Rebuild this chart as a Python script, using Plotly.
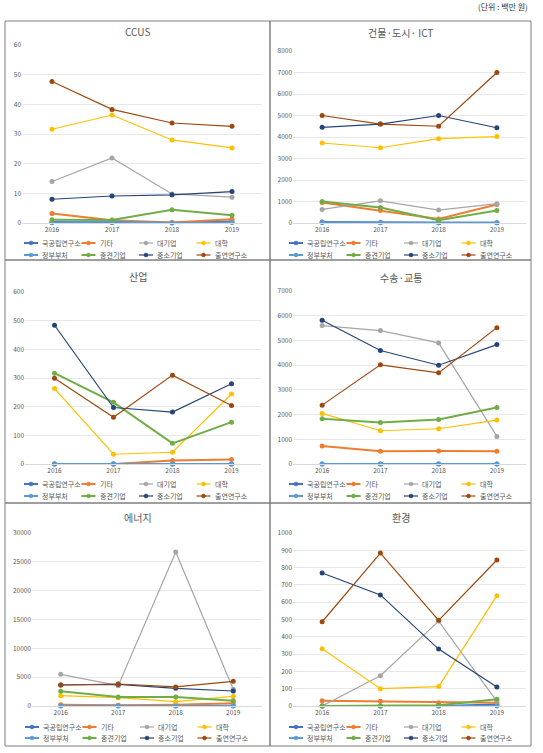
import plotly.graph_objects as go

years = ['2016', '2017', '2018', '2019']
series_names = ['국공립연구소', '기타', '대기업', '대학', '정부부처', '중견기업', '중소기업', '출연연구소']
series_colors = ['#4472C4', '#ED7D31', '#A5A5A5', '#FFC000', '#5B9BD5', '#70AD47', '#264478', '#9E480E']
series_widths = [2, 2, 1.2, 1.2, 2, 2, 1.2, 1.2]

panel_titles = ['CCUS', '건물·도시· ICT', '산업', '수송·교통', '에너지', '환경']
y_max = [60, 8000, 600, 7000, 30000, 1000]
y_dtick = [10, 1000, 100, 1000, 5000, 100]

ccus = [
    [0.3, 0.2, 0.1, 0.5],
    [3.2, 0.9, 0.2, 1.3],
    [14.0, 21.9, 9.8, 8.7],
    [31.6, 36.4, 28.0, 25.3],
    [0.1, 0.5, 0.0, 0.2],
    [1.1, 1.0, 4.5, 2.6],
    [8.0, 9.1, 9.5, 10.6],
    [47.7, 38.3, 33.7, 32.6],
]
building = [
    [50, 20, 10, 10],
    [950, 580, 190, 860],
    [630, 1030, 600, 900],
    [3720, 3500, 3920, 4020],
    [20, 10, 10, 10],
    [1000, 720, 130, 580],
    [4450, 4600, 5000, 4430],
    [5000, 4600, 4500, 7000],
]
industry = [
    [0, 0, 0, 0],
    [0, 0, 12, 16],
    [0, 0, 0, 0],
    [263, 34, 41, 244],
    [0, 0, 0, 0],
    [317, 215, 72, 146],
    [484, 197, 181, 280],
    [299, 163, 310, 204],
]
transport = [
    [0, 0, 0, 0],
    [727, 511, 525, 511],
    [5600, 5400, 4900, 1117],
    [2046, 1346, 1427, 1777],
    [0, 0, 0, 0],
    [1830, 1682, 1803, 2288],
    [5814, 4590, 3997, 4832],
    [2382, 4011, 3688, 5518],
]
energy = [
    [50, 30, 30, 60],
    [230, 150, 200, 460],
    [5490, 3530, 26700, 2900],
    [1790, 1445, 750, 1680],
    [0, 0, 0, 0],
    [2540, 1560, 1560, 925],
    [3640, 3760, 3060, 2600],
    [3640, 3815, 3300, 4280],
]
environment = [
    [0, 0, 0, 8],
    [31, 27, 19, 19],
    [0, 175, 491, 27],
    [331, 100, 112, 638],
    [0, 0, 0, 0],
    [0, 0, 4, 39],
    [769, 642, 329, 110],
    [487, 884, 495, 844],
]
panel_data = [ccus, building, industry, transport, energy, environment]

W, H = 543, 753
FONT = 'Noto Sans CJK KR, Malgun Gothic, sans-serif'
TXT = '#595959'

# layout geometry in pixels
plot_x = [(22, 262), (293, 526), (25, 261), (293, 526), (32, 262), (293, 526)]
plot_y = [(45, 223), (51, 223), (292, 464), (291, 464), (533, 706), (533, 706)]
box_x = [(5, 270), (270, 531)]
box_y = [(21, 260), (260, 503), (503, 746)]
title_y = [32, 33, 276, 277, 517, 517]
legend_rows = [(243, 255), (243, 255), (484, 496), (484, 496), (727, 738), (727, 738)]
legend_text0 = [40, 305, 40, 305, 41, 305]
legend_step = 57.5

def px(x):
    return x / W

def py(y):
    return 1 - y / H

fig = go.Figure()
layout = dict(
    width=W, height=H, showlegend=False,
    margin=dict(l=0, r=0, t=0, b=0, pad=0, autoexpand=False),
    paper_bgcolor='white', plot_bgcolor='white',
    font=dict(family=FONT, color=TXT, size=7),
    shapes=[], annotations=[],
)

for p in range(6):
    ax = '' if p == 0 else str(p + 1)
    xa, ya = 'x' + ax, 'y' + ax
    for i, name in enumerate(series_names):
        fig.add_trace(go.Scatter(
            x=years, y=panel_data[p][i], name=name, mode='lines+markers',
            line=dict(color=series_colors[i], width=series_widths[i]),
            marker=dict(color=series_colors[i], size=5),
            xaxis=xa, yaxis=ya, cliponaxis=False,
        ))
        # legend entry (short line + dot + label), Excel style
        col, row = i % 4, i // 4
        tx = legend_text0[p] + col * legend_step
        ty = legend_rows[p][row]
        layout['shapes'].append(dict(
            type='line', xref='paper', yref='paper',
            x0=px(tx - 16), x1=px(tx - 2), y0=py(ty), y1=py(ty),
            line=dict(color=series_colors[i], width=series_widths[i]),
        ))
        layout['shapes'].append(dict(
            type='circle', xref='paper', yref='paper',
            x0=px(tx - 11), x1=px(tx - 7), y0=py(ty + 2), y1=py(ty - 2),
            line=dict(color=series_colors[i], width=0.5), fillcolor=series_colors[i],
        ))
        layout['annotations'].append(dict(
            text=name, x=px(tx), y=py(ty), xref='paper', yref='paper',
            showarrow=False, xanchor='left', yanchor='middle',
            font=dict(size=7, color=TXT, family=FONT),
        ))
    layout['xaxis' + ax] = dict(
        domain=[px(plot_x[p][0]), px(plot_x[p][1])], anchor=ya,
        type='category', range=[-0.5, 3.5], showgrid=False,
        showline=True, linecolor='#D9D9D9', linewidth=1, ticks='',
        tickfont=dict(size=6.5, color=TXT), fixedrange=True, automargin=False,
    )
    layout['yaxis' + ax] = dict(
        domain=[py(plot_y[p][1]), py(plot_y[p][0])], anchor=xa,
        range=[0, y_max[p]], dtick=y_dtick[p], tickformat='d', showgrid=True,
        gridcolor='#E8E8E8', gridwidth=1, zeroline=False, showline=False,
        ticks='', tickfont=dict(size=6.5, color=TXT), fixedrange=True, automargin=False,
    )
    cx = (box_x[p % 2][0] + box_x[p % 2][1]) / 2
    layout['annotations'].append(dict(
        text=panel_titles[p], x=px(cx), y=py(title_y[p]), xref='paper', yref='paper',
        showarrow=False, xanchor='center', yanchor='middle',
        font=dict(size=10, color=TXT, family=FONT),
    ))

# panel borders
for r in range(3):
    for c in range(2):
        layout['shapes'].append(dict(
            type='rect', xref='paper', yref='paper',
            x0=px(box_x[c][0]), x1=px(box_x[c][1]),
            y0=py(box_y[r][1]), y1=py(box_y[r][0]),
            line=dict(color='#7F7F7F', width=1), fillcolor='rgba(0,0,0,0)',
        ))

layout['annotations'].append(dict(
    text='(단위 : 백만 원)', x=px(530), y=py(7), xref='paper', yref='paper',
    showarrow=False, xanchor='right', yanchor='middle',
    font=dict(size=8, color='#333333', family=FONT),
))

fig.update_layout(**layout)
fig.write_html('out.html', config={'displayModeBar': False},
               post_script="document.body.style.margin='0';document.body.style.overflow='hidden';")
